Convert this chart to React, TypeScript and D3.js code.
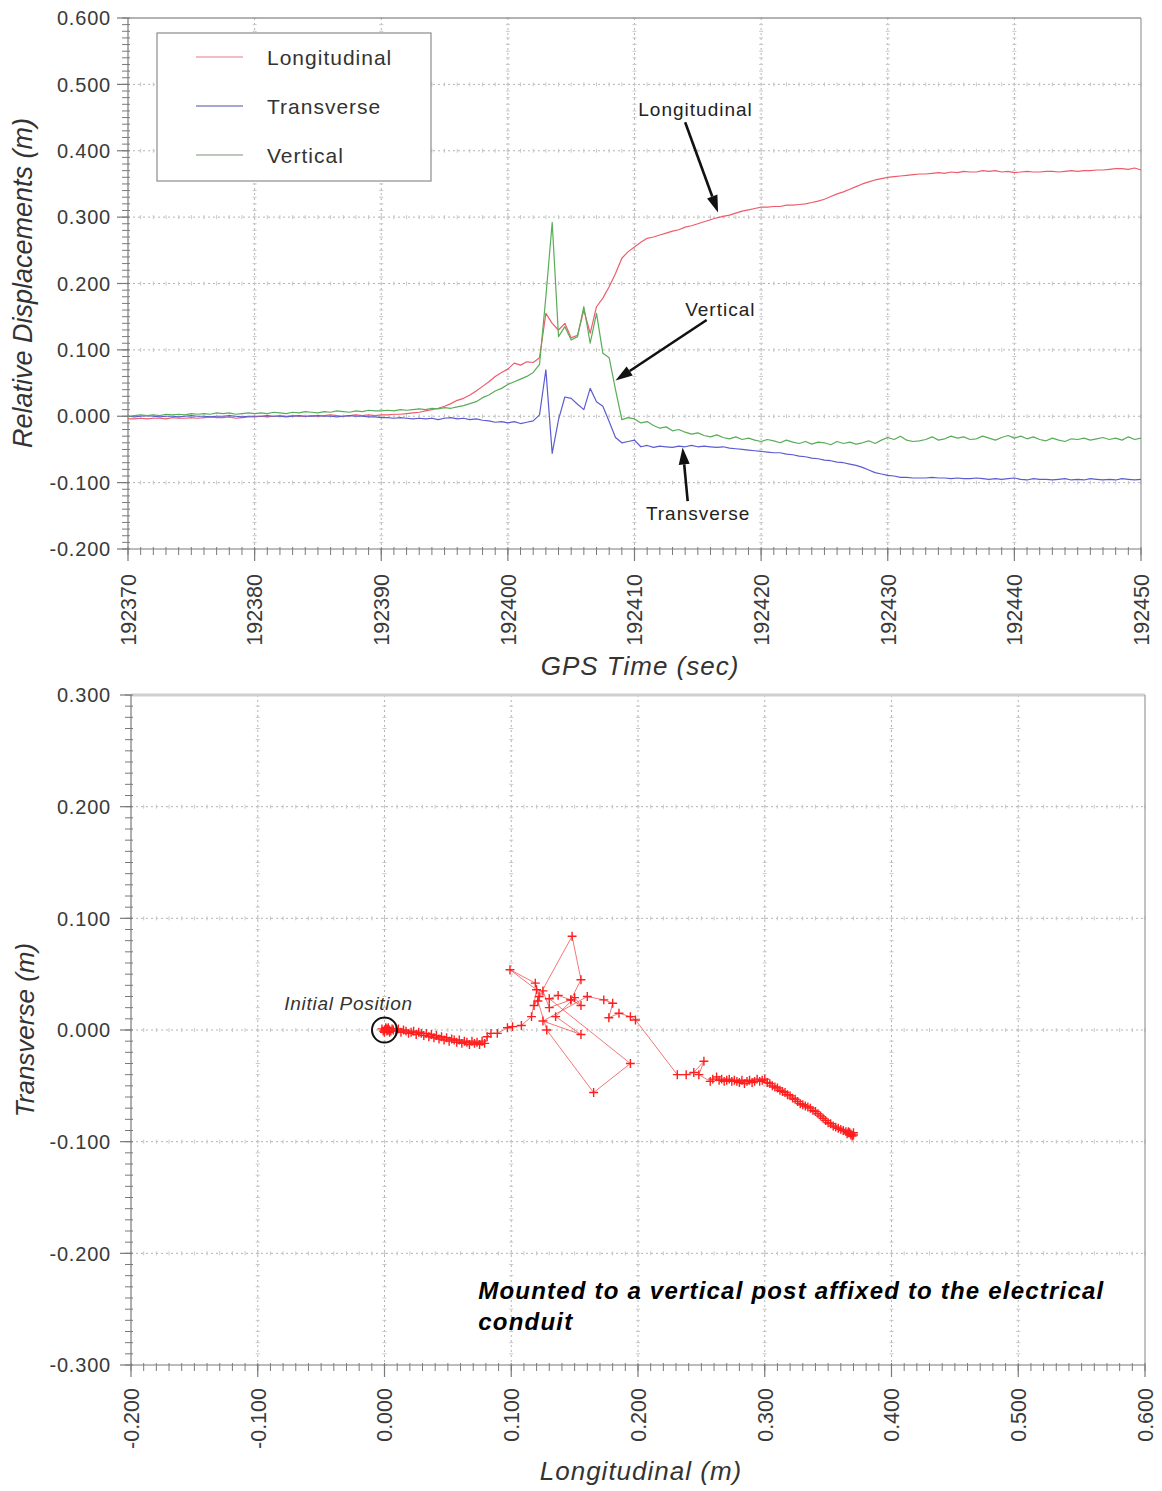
import { useEffect, useRef } from 'react'
import * as d3 from 'd3'

// GPS samples every half second starting at 192370 s, displacements in mm
const START_TIME = 192370
const SAMPLE_STEP = 0.5

const longitudinalMm = [
  -4, -4, -3, -4, -3, -3, -4, -2, -3, -3, -2, -3, -2, -1, -2, -2, -1, -3, -2, -1, -1,
  0, -1, 0, 1, 0, 1, 0, 0, 1, 0, 1, 2, 1, 0, 1, 2, 1, 2, 1, 2,
  2, 3, 3, 4, 5, 6, 8, 10, 12, 15, 19, 24, 27, 32, 38, 45, 52, 60, 66, 71,
  80, 77, 82, 81, 88, 155, 140, 130, 140, 118, 122, 160, 125, 165, 178, 195, 215, 238, 248, 255,
  262, 268, 270, 273, 276, 279, 281, 285, 287, 290, 293, 296, 299, 301, 303, 306, 309, 311, 313, 315,
  315, 316, 316, 318, 318, 319, 320, 322, 324, 327, 331, 335, 338, 342, 346, 350, 353, 356, 358, 360,
  361, 362, 363, 364, 365, 365, 366, 367, 366, 368, 367, 369, 368, 368, 370, 369, 370, 368, 369, 367,
  368, 369, 368, 368, 369, 369, 368, 369, 370, 369, 370, 370, 371, 371, 372, 373, 373, 372, 374, 371
]

const transverseMm = [
  0, -1, 0, 1, 0, -1, 0, 0, -1, 0, 1, 0, 0, -1, 0, 0, 1, 0, -1, 0, 0,
  0, 1, 0, 0, -1, 0, 1, 0, 0, 1, 0, 0, -1, 0, 1, 0, 0, -1, -1, -2,
  -2, -3, -2, -3, -4, -3, -4, -3, -5, -3, -2, -4, -3, -5, -4, -6, -7, -9, -8, -10,
  -8, -11, -9, -7, 2, 70, -56, -5, 29, 27, 18, 10, 42, 22, 15, -8, -32, -40, -38, -36,
  -46, -44, -47, -45, -46, -47, -45, -46, -44, -46, -45, -46, -47, -46, -48, -49, -50, -51, -52, -53,
  -54, -55, -55, -57, -58, -60, -61, -63, -64, -66, -67, -69, -70, -72, -74, -77, -81, -85, -87, -89,
  -90, -92, -92, -93, -93, -93, -92, -93, -93, -94, -93, -94, -94, -93, -94, -95, -94, -95, -94, -93,
  -95, -96, -94, -95, -95, -96, -95, -94, -96, -95, -96, -94, -95, -96, -95, -96, -94, -95, -96, -95
]

const verticalMm = [
  0, 1, 2, 1, 2, 1, 3, 2, 3, 2, 4, 3, 4, 3, 5, 4, 5, 3, 4, 5, 4,
  5, 4, 6, 5, 4, 6, 5, 7, 6, 5, 7, 6, 8, 7, 6, 8, 7, 9, 8, 8,
  9, 8, 10, 9, 10, 11, 10, 12, 11, 13, 12, 14, 16, 19, 22, 28, 32, 38, 42, 48,
  52, 56, 60, 66, 78, 180, 292, 120, 135, 115, 120, 165, 110, 155, 95, 88, 40, -5, -2, -4,
  -10, -8, -14, -18, -16, -22, -20, -24, -27, -25, -29, -31, -28, -32, -34, -31, -35, -33, -36, -38,
  -35, -37, -40, -36, -39, -41, -38, -42, -39, -40, -43, -38, -41, -39, -42, -40, -37, -41, -36, -32,
  -35, -30, -36, -38, -37, -35, -31, -36, -34, -30, -33, -31, -35, -34, -30, -33, -36, -32, -29, -33,
  -30, -34, -31, -35, -37, -33, -36, -38, -34, -35, -33, -36, -34, -32, -35, -33, -36, -31, -35, -33
]

const timeTicks = [192370, 192380, 192390, 192400, 192410, 192420, 192430, 192440, 192450]
const displacementTicks = [0.6, 0.5, 0.4, 0.3, 0.2, 0.1, 0, -0.1, -0.2]

// plan view track (longitudinal vs transverse), mm
const planLongitudinalMm = [
  0, 2, -1, 1, 3, -2, 0, 2, 1, 4, 3, 5, 2, 6, 4, 7, 9, 11, 13, 15, 17, 19, 21, 23, 25, 27, 29, 31, 33, 35,
  37, 39, 41, 43, 45, 47, 49, 51, 53, 55, 57, 59, 61, 63, 65, 67, 69, 71, 73, 75, 77, 79, 81, 84, 89, 97,
  101, 108, 116, 120, 99, 119, 122, 118, 148, 155, 147, 130, 125, 121, 128, 165, 194, 130, 137, 147, 155,
  150, 135, 155, 125, 160, 173, 180, 177, 185, 194, 198, 231, 238, 244, 252, 248,
  257, 259, 262, 264, 266, 268, 270, 272, 274, 276, 278, 280, 282, 284, 286, 288, 290, 292, 294, 296, 298,
  300, 302, 304, 306, 308, 310, 312, 314, 316, 318, 320, 322, 324, 326, 328, 330, 332, 334, 336, 338, 340,
  342, 344, 346, 348, 350, 352, 354, 356, 358, 360, 362, 364, 366, 368, 370, 367, 369, 366, 368, 365, 370
]
const planTransverseMm = [
  0, 1, -1, 2, 0, 1, -2, -1, 1, 0, 2, -1, 0, 1, -2, 0, -1, 1, -2, 0, -1, -3, -2, -1, -4, -2, -3, -5, -3, -6,
  -4, -7, -5, -8, -6, -9, -7, -10, -8, -9, -11, -9, -12, -10, -11, -13, -10, -12, -11, -13, -10, -12, -6, -3, -3, 2,
  3, 4, 12, 36, 54, 42, 30, 22, 84, 45, 27, 20, 35, 26, 0, -56, -30, 28, 31, 27, 22,
  29, 12, -4, 8, 30, 27, 24, 11, 15, 12, 9, -40, -40, -38, -28, -40,
  -46, -44, -42, -45, -44, -46, -45, -44, -46, -45, -46, -47, -45, -48, -46, -45, -47, -46, -44, -46, -45,
  -44, -47, -48, -50, -51, -52, -54, -55, -56, -58, -59, -61, -62, -64, -66, -67, -68, -69, -70, -72, -73,
  -75, -77, -79, -81, -83, -84, -86, -87, -88, -89, -90, -91, -92, -93, -94, -92, -95, -91, -94, -93, -92
]

const planLongTicks = [-0.2, -0.1, 0, 0.1, 0.2, 0.3, 0.4, 0.5, 0.6]
const planTransTicks = [0.3, 0.2, 0.1, 0, -0.1, -0.2, -0.3]

const SERIES = [
  { label: 'Longitudinal', values: longitudinalMm, color: '#ee5c6c', legend: '#f4a3b0' },
  { label: 'Transverse', values: transverseMm, color: '#5c5cd0', legend: '#8888c4' },
  { label: 'Vertical', values: verticalMm, color: '#58ad58', legend: '#a6b8a6' }
]

const FONT = "'Liberation Sans', Arial, Helvetica, sans-serif"
const fmt = d3.formatLocale({ decimal: '.', thousands: ',', grouping: [3], currency: ['', ''], minus: '-' }).format('.3f')

type G = d3.Selection<SVGGElement, unknown, null, undefined>

function drawFrame(
  g: G,
  x: d3.ScaleLinear<number, number>,
  y: d3.ScaleLinear<number, number>,
  xTicks: number[],
  yTicks: number[],
  xMinor: number[],
  yMinor: number[],
  topStroke: string,
  topWidth: number
) {
  const [x0, x1] = x.range()
  const [y0, y1] = y.range()

  // dotted grid with little cross marks
  const grid = g.append('g').attr('stroke', '#b4b4b4').attr('stroke-width', 1)
  xTicks.slice(1, -1).forEach(t => {
    grid.append('line').attr('x1', x(t)).attr('x2', x(t)).attr('y1', y1).attr('y2', y0)
      .attr('stroke-dasharray', '2,3')
    yMinor.forEach(m => {
      grid.append('line').attr('x1', x(t) - 2).attr('x2', x(t) + 2).attr('y1', y(m)).attr('y2', y(m))
        .attr('stroke', '#c8c8c8')
    })
  })
  yTicks.slice(1, -1).forEach(t => {
    grid.append('line').attr('x1', x0).attr('x2', x1).attr('y1', y(t)).attr('y2', y(t))
      .attr('stroke-dasharray', '2,3')
    xMinor.forEach(m => {
      grid.append('line').attr('x1', x(m)).attr('x2', x(m)).attr('y1', y(t) - 2).attr('y2', y(t) + 2)
        .attr('stroke', '#c8c8c8')
    })
  })

  // frame top / right
  g.append('line').attr('x1', x0).attr('x2', x1).attr('y1', y1).attr('y2', y1)
    .attr('stroke', topStroke).attr('stroke-width', topWidth)
  g.append('line').attr('x1', x1).attr('x2', x1).attr('y1', y1).attr('y2', y0)
    .attr('stroke', '#9a9a9a').attr('stroke-width', 1.2)

  // axes
  const ax = g.append('g').attr('stroke', '#7a7a7a').attr('stroke-width', 1.2)
  ax.append('line').attr('x1', x0).attr('x2', x0).attr('y1', y1).attr('y2', y0)
  ax.append('line').attr('x1', x0).attr('x2', x1).attr('y1', y0).attr('y2', y0)
  yMinor.forEach(m => {
    ax.append('line').attr('x1', x0 - 6).attr('x2', x0 + 2).attr('y1', y(m)).attr('y2', y(m))
      .attr('stroke-width', 1)
  })
  yTicks.forEach(t => {
    ax.append('line').attr('x1', x0 - 11).attr('x2', x0).attr('y1', y(t)).attr('y2', y(t))
  })
  xMinor.forEach(m => {
    ax.append('line').attr('x1', x(m)).attr('x2', x(m)).attr('y1', y0 - 2).attr('y2', y0 + 6)
      .attr('stroke-width', 1)
  })
  xTicks.forEach(t => {
    ax.append('line').attr('x1', x(t)).attr('x2', x(t)).attr('y1', y0).attr('y2', y0 + 12)
  })
}

function arrow(g: G, x1: number, y1: number, x2: number, y2: number) {
  const ang = Math.atan2(y2 - y1, x2 - x1)
  const len = 17
  const half = 5.5
  const bx = x2 - len * Math.cos(ang)
  const by = y2 - len * Math.sin(ang)
  g.append('line').attr('x1', x1).attr('y1', y1).attr('x2', bx).attr('y2', by)
    .attr('stroke', '#111').attr('stroke-width', 2.6)
  g.append('path')
    .attr('d', `M${x2},${y2}L${bx + half * Math.sin(ang)},${by - half * Math.cos(ang)}L${bx - half * Math.sin(ang)},${by + half * Math.cos(ang)}Z`)
    .attr('fill', '#111')
}

function drawTimeChart(svg: d3.Selection<SVGSVGElement, unknown, null, undefined>) {
  const g = svg.append('g') as unknown as G
  const x = d3.scaleLinear().domain([192370, 192450]).range([128, 1141])
  const y = d3.scaleLinear().domain([-0.2, 0.6]).range([549, 18])

  drawFrame(g, x, y, timeTicks, displacementTicks,
    d3.range(192370, 192451, 1), d3.range(-200, 601, 10).map(v => v / 1000), '#9a9a9a', 1.5)

  // tick labels
  g.append('g').selectAll('text').data(displacementTicks).join('text')
    .attr('x', 111).attr('y', d => y(d)).attr('dy', '0.36em')
    .attr('text-anchor', 'end').attr('font-family', FONT).attr('font-size', 20)
    .attr('letter-spacing', 0.8).attr('fill', '#3a3a3a')
    .text(d => fmt(d))
  g.append('g').selectAll('text').data(timeTicks).join('text')
    .attr('transform', d => `translate(${x(d)},574) rotate(-90)`)
    .attr('dy', '0.36em').attr('text-anchor', 'end')
    .attr('font-family', FONT).attr('font-size', 21.5).attr('fill', '#3a3a3a')
    .text(d => String(d))

  // series
  const times = longitudinalMm.map((_, i) => START_TIME + i * SAMPLE_STEP)
  SERIES.forEach(s => {
    const line = d3.line<number>()
      .x((_, i) => x(times[i]))
      .y(d => y(d / 1000))
    g.append('path').datum(s.values)
      .attr('fill', 'none').attr('stroke', s.color).attr('stroke-width', 1.2)
      .attr('stroke-linejoin', 'round').attr('d', line)
  })

  // legend
  const lg = g.append('g')
  lg.append('rect').attr('x', 157).attr('y', 33).attr('width', 274).attr('height', 148)
    .attr('fill', '#fff').attr('stroke', '#8c8c8c').attr('stroke-width', 1.2)
  SERIES.forEach((s, i) => {
    const ly = 57 + i * 49
    lg.append('line').attr('x1', 196).attr('x2', 243).attr('y1', ly).attr('y2', ly)
      .attr('stroke', s.legend).attr('stroke-width', 1.5)
    lg.append('text').attr('x', 267).attr('y', ly).attr('dy', '0.36em')
      .attr('font-family', FONT).attr('font-size', 21).attr('letter-spacing', 1)
      .attr('fill', '#333').text(s.label)
  })

  // annotations (data coordinates)
  const ann = g.append('g')
  const label = (t: number, v: number, text: string) =>
    ann.append('text').attr('x', x(t)).attr('y', y(v))
      .attr('font-family', FONT).attr('font-size', 19).attr('letter-spacing', 1)
      .attr('fill', '#222').text(text)
  label(192410.3, 0.453, 'Longitudinal')
  arrow(ann, x(192414.0), y(0.443), x(192416.6), y(0.307))
  label(192414.0, 0.151, 'Vertical')
  arrow(ann, x(192415.7), y(0.145), x(192408.5), y(0.054))
  label(192410.9, -0.157, 'Transverse')
  arrow(ann, x(192414.2), y(-0.128), x(192413.8), y(-0.047))

  // axis titles
  g.append('text').attr('transform', 'translate(32,283) rotate(-90)')
    .attr('text-anchor', 'middle').attr('font-family', FONT).attr('font-style', 'italic')
    .attr('font-size', 27).attr('fill', '#333').text('Relative Displacements (m)')
  g.append('text').attr('x', 640).attr('y', 675)
    .attr('text-anchor', 'middle').attr('font-family', FONT).attr('font-style', 'italic')
    .attr('font-size', 26).attr('letter-spacing', 1).attr('fill', '#333').text('GPS Time (sec)')
}

function drawPlanChart(svg: d3.Selection<SVGSVGElement, unknown, null, undefined>) {
  const g = svg.append('g') as unknown as G
  const x = d3.scaleLinear().domain([-0.2, 0.6]).range([131, 1145])
  const y = d3.scaleLinear().domain([-0.3, 0.3]).range([1365, 695])

  drawFrame(g, x, y, planLongTicks, planTransTicks,
    d3.range(-200, 601, 10).map(v => v / 1000), d3.range(-300, 301, 10).map(v => v / 1000), '#cfcfcf', 3)

  g.append('g').selectAll('text').data(planTransTicks).join('text')
    .attr('x', 111).attr('y', d => y(d)).attr('dy', '0.36em')
    .attr('text-anchor', 'end').attr('font-family', FONT).attr('font-size', 20)
    .attr('letter-spacing', 0.8).attr('fill', '#3a3a3a')
    .text(d => fmt(d))
  g.append('g').selectAll('text').data(planLongTicks).join('text')
    .attr('transform', d => `translate(${x(d)},1388) rotate(-90)`)
    .attr('dy', '0.36em').attr('text-anchor', 'end')
    .attr('font-family', FONT).attr('font-size', 21.5).attr('fill', '#3a3a3a')
    .text(d => fmt(d))

  const pts: [number, number][] = planLongitudinalMm.map((v, i) => [v / 1000, planTransverseMm[i] / 1000])
  const line = d3.line<[number, number]>().x(d => x(d[0])).y(d => y(d[1]))
  g.append('path').datum(pts)
    .attr('fill', 'none').attr('stroke', '#f04848').attr('stroke-width', 1)
    .attr('stroke-opacity', 0.75).attr('d', line)
  const sym = d3.symbol().type(d3.symbolPlus).size(28)
  g.append('g').selectAll('path').data(pts).join('path')
    .attr('transform', d => `translate(${x(d[0])},${y(d[1])})`)
    .attr('d', sym).attr('fill', 'none').attr('stroke', '#ff1e1e').attr('stroke-width', 1.4)

  // initial position marker
  g.append('circle').attr('cx', x(0)).attr('cy', y(0)).attr('r', 12.5)
    .attr('fill', 'none').attr('stroke', '#111').attr('stroke-width', 2)
  g.append('text').attr('x', x(-0.079)).attr('y', y(0.018))
    .attr('font-family', FONT).attr('font-style', 'italic').attr('font-size', 19)
    .attr('letter-spacing', 0.7).attr('fill', '#333').text('Initial Position')

  const note = g.append('text').attr('x', x(0.074)).attr('y', y(-0.241))
    .attr('font-family', FONT).attr('font-style', 'italic').attr('font-weight', 'bold')
    .attr('font-size', 24).attr('letter-spacing', 1.2).attr('fill', '#000')
  note.append('tspan').text('Mounted to a vertical post affixed to the electrical')
  note.append('tspan').attr('x', x(0.074)).attr('dy', 31).text('conduit')

  g.append('text').attr('transform', 'translate(34,1030) rotate(-90)')
    .attr('text-anchor', 'middle').attr('font-family', FONT).attr('font-style', 'italic')
    .attr('font-size', 26).attr('fill', '#333').text('Transverse (m)')
  g.append('text').attr('x', 641).attr('y', 1480)
    .attr('text-anchor', 'middle').attr('font-family', FONT).attr('font-style', 'italic')
    .attr('font-size', 26).attr('letter-spacing', 1).attr('fill', '#333').text('Longitudinal (m)')
}

export default function App() {
  const ref = useRef<SVGSVGElement>(null)

  useEffect(() => {
    if (!ref.current) return
    const svg = d3.select(ref.current)
    svg.selectAll('*').remove()
    drawTimeChart(svg)
    drawPlanChart(svg)
  }, [])

  return (
    <svg
      ref={ref}
      width={1162}
      height={1491}
      style={{ position: 'absolute', left: 0, top: 0, background: '#fff', display: 'block' }}
    />
  )
}
